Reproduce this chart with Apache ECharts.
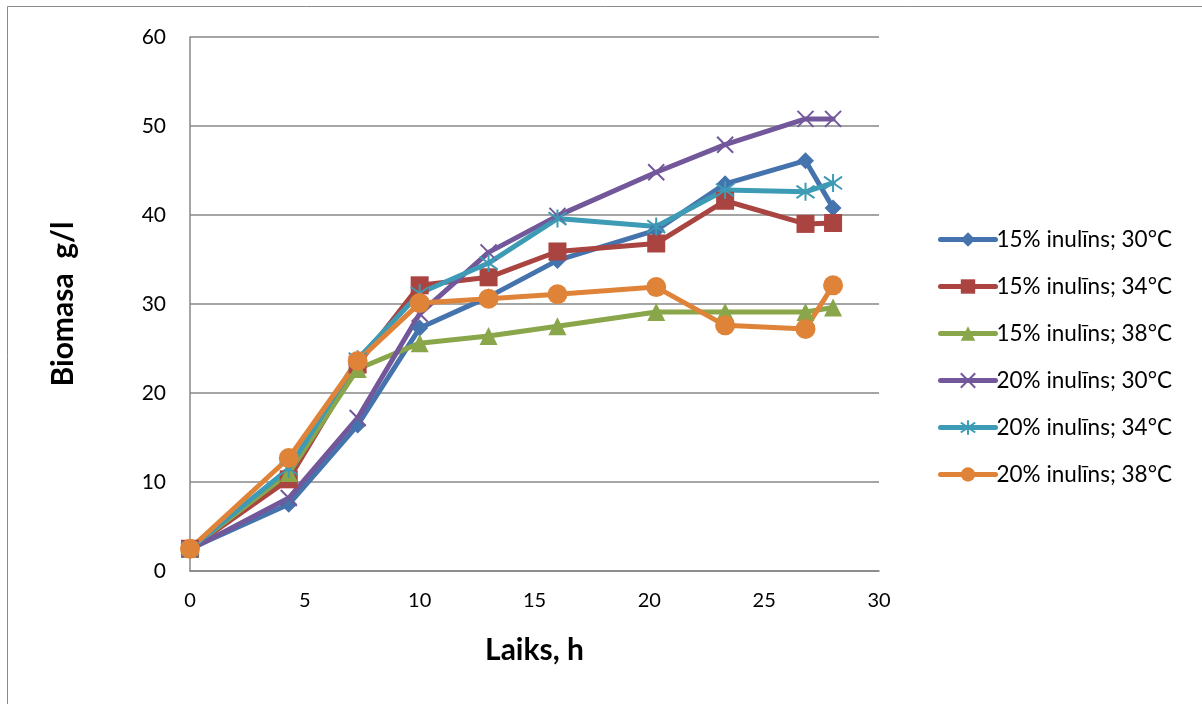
<!DOCTYPE html>
<html>
<head>
<meta charset="utf-8">
<script src="https://cdn.jsdelivr.net/npm/echarts@6/dist/echarts.min.js"></script>
<style>
  html, body { margin: 0; padding: 0; background: #fff; }
  #main { width: 1202px; height: 704px; }
</style>
</head>
<body>
<div id="main"></div>
<script>
// time points, h
var hours = [0, 4.3, 7.3, 10, 13, 16, 20.3, 23.3, 26.8, 28];
// biomass, g/l
var inu15_30 = [2.5, 7.5, 16.4, 27.3, 30.8, 34.9, 38.3, 43.5, 46.1, 40.8];
var inu15_34 = [2.5, 10.3, 23.2, 32.1, 33.0, 35.9, 36.8, 41.6, 39.0, 39.1];
var inu15_38 = [2.5, 11.0, 22.7, 25.6, 26.4, 27.5, 29.1, 29.1, 29.1, 29.6];
var inu20_30 = [2.4, 8.2, 17.2, 28.9, 35.8, 39.9, 44.8, 47.9, 50.8, 50.8];
var inu20_34 = [2.5, 11.5, 23.8, 31.2, 34.6, 39.6, 38.7, 42.8, 42.6, 43.6];
var inu20_38 = [2.5, 12.7, 23.6, 30.1, 30.6, 31.1, 31.9, 27.6, 27.2, 32.1];
var names = ['15% inulīns; 30°C', '15% inulīns; 34°C', '15% inulīns; 38°C',
             '20% inulīns; 30°C', '20% inulīns; 34°C', '20% inulīns; 38°C'];

var FONT = "Lato, 'Open Sans', sans-serif";
var crossPath = 'path://M0,0L10,10M10,0L0,10';
var starPath = 'path://M5,0L5,10M0.8,1.5L9.2,8.5M9.2,1.5L0.8,8.5';

function pairs(ys) {
    return hours.map(function (h, i) { return [h, ys[i]]; });
}

function mkSeries(name, ys, color, symbol, size, stroked) {
    return {
        name: name,
        type: 'line',
        data: pairs(ys),
        symbol: symbol,
        symbolSize: size,
        showAllSymbol: true,
        lineStyle: { color: color, width: 5, cap: 'round', join: 'round' },
        itemStyle: stroked
            ? { color: color, borderColor: color, borderWidth: 2 }
            : { color: color, borderWidth: 0 },
        emphasis: { disabled: true }
    };
}

var myChart = echarts.init(document.getElementById('main'));
var option = {
    animation: false,
    textStyle: { fontFamily: FONT },
    graphic: [{
        type: 'rect',
        shape: { x: 7.5, y: 6.5, width: 1400, height: 900 },
        style: { fill: 'none', stroke: '#8a8a8a', lineWidth: 1 },
        silent: true
    }],
    grid: { left: 190, top: 37, width: 689, height: 534 },
    legend: {
        orient: 'vertical',
        left: 933,
        top: 223,
        itemWidth: 55,
        itemHeight: 18,
        itemGap: 24,
        data: names,
        lineStyle: { width: 5, cap: 'round' },
        textStyle: { fontSize: 22.5, color: '#000', fontFamily: FONT, padding: [0, 0, 0, -4] }
    },
    xAxis: {
        type: 'value',
        min: 0,
        max: 30,
        interval: 5,
        name: 'Laiks, h',
        nameLocation: 'middle',
        nameGap: 64,
        nameTextStyle: { fontSize: 30, fontWeight: 'bold', color: '#000', fontFamily: FONT },
        axisLine: { lineStyle: { color: '#878787', width: 1.5 } },
        axisTick: { show: false },
        splitLine: { show: false },
        axisLabel: { fontSize: 20, color: '#000', margin: 20, fontFamily: FONT }
    },
    yAxis: {
        type: 'value',
        min: 0,
        max: 60,
        interval: 10,
        name: 'Biomasa  g/l',
        nameLocation: 'middle',
        nameGap: 112,
        nameTextStyle: { fontSize: 30, fontWeight: 'bold', color: '#000', fontFamily: FONT },
        axisLine: { show: true, lineStyle: { color: '#878787', width: 1.5 } },
        axisTick: { show: false },
        splitLine: { lineStyle: { color: '#878787', width: 1.5 } },
        axisLabel: { fontSize: 21, color: '#000', margin: 24, fontFamily: FONT }
    },
    series: [
        mkSeries(names[0], inu15_30, '#4573ad', 'diamond', 17, false),
        mkSeries(names[1], inu15_34, '#aa4441', 'rect', 18, false),
        mkSeries(names[2], inu15_38, '#89a64a', 'triangle', 18, false),
        mkSeries(names[3], inu20_30, '#72589a', crossPath, 16, true),
        mkSeries(names[4], inu20_34, '#3d9bb5', starPath, 18, true),
        mkSeries(names[5], inu20_38, '#df8339', 'circle', 20, false)
    ]
};
myChart.setOption(option);
</script>
</body>
</html>
